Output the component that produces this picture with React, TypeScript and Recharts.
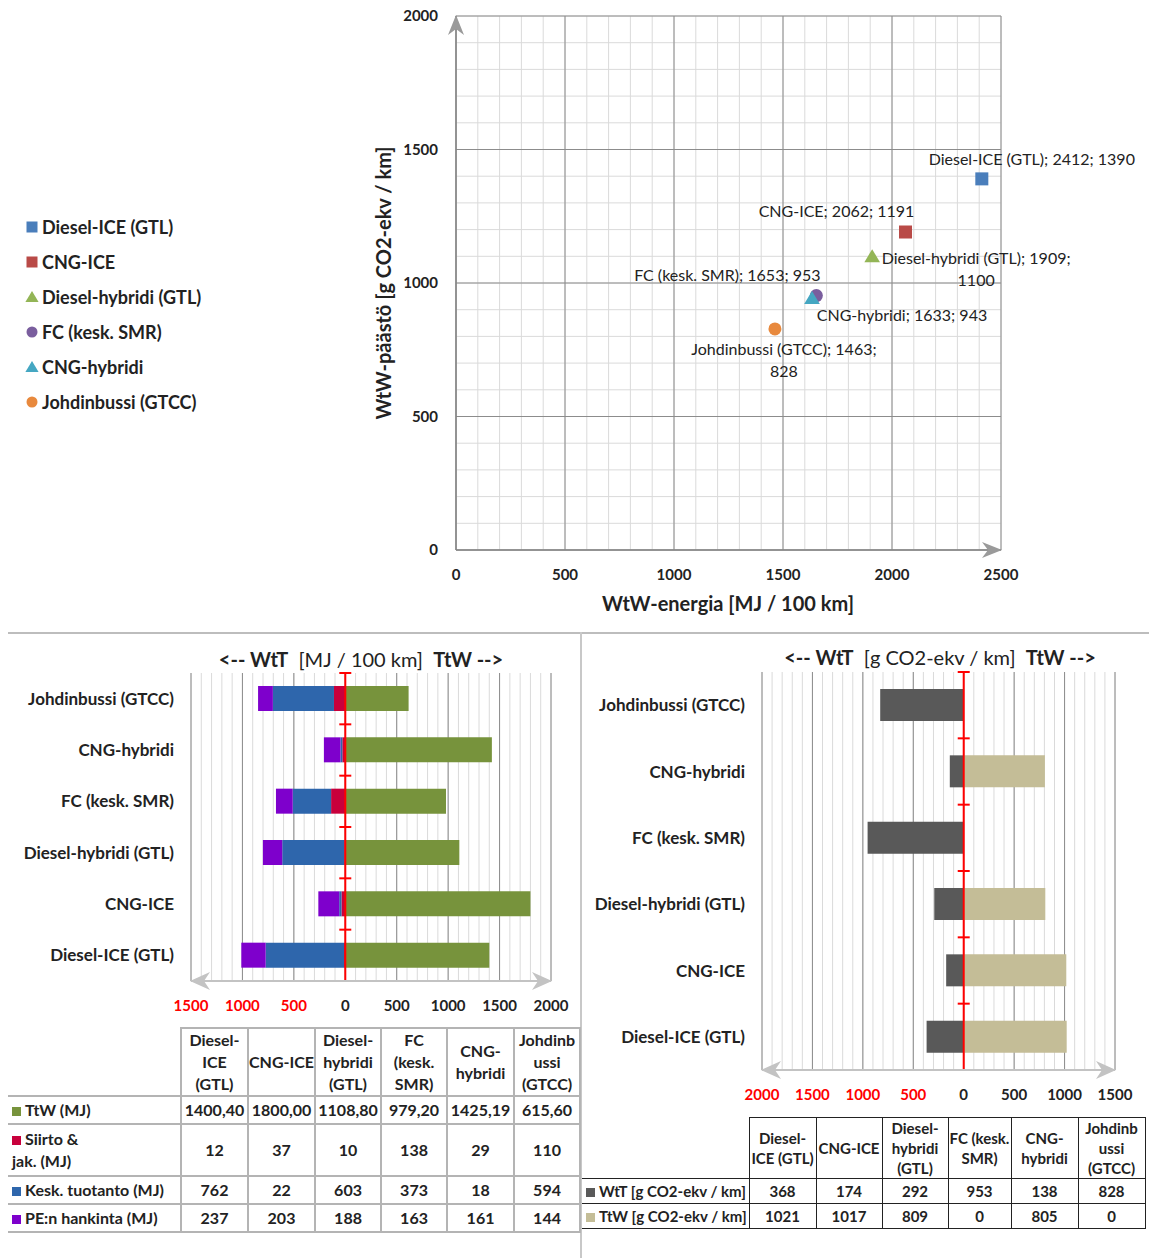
import React from "react";
import {
  ScatterChart,
  Scatter,
  XAxis,
  YAxis,
  CartesianGrid,
  BarChart,
  Bar,
  ReferenceLine,
} from "recharts";

const FONT = 'Lato, "Open Sans", sans-serif';

// bus types, in the order of the tables
const vehicles = ["Diesel-ICE (GTL)", "CNG-ICE", "Diesel-hybridi (GTL)", "FC (kesk. SMR)", "CNG-hybridi", "Johdinbussi (GTCC)"];
const vehicleColors = ["#4A7EBB", "#B94A47", "#93B556", "#7A5E9E", "#45A7C2", "#E8893D"];
const vehicleShapes = ["square", "square", "triangle", "circle", "triangle", "circle"];

// WtW scatter
const wtwEnergy = [2412, 2062, 1909, 1653, 1633, 1463];
const wtwEmission = [1390, 1191, 1100, 953, 943, 828];
const scatterXTicks = [0, 500, 1000, 1500, 2000, 2500];
const scatterYTicks = [0, 500, 1000, 1500, 2000];

// energy, MJ / 100 km
const ttwMJ = [1400.4, 1800.0, 1108.8, 979.2, 1425.19, 615.6];
const siirtoMJ = [12, 37, 10, 138, 29, 110];
const keskMJ = [762, 22, 603, 373, 18, 594];
const peMJ = [237, 203, 188, 163, 161, 144];
const energyTicks = [-1500, -1000, -500, 0, 500, 1000, 1500, 2000];

// emissions, g CO2-ekv / km
const wttCO2 = [368, 174, 292, 953, 138, 828];
const ttwCO2 = [1021, 1017, 809, 0, 805, 0];
const co2Ticks = [-2000, -1500, -1000, -500, 0, 500, 1000, 1500];

const energyHeaders = ["Diesel-\nICE\n(GTL)", "CNG-ICE", "Diesel-\nhybridi\n(GTL)", "FC\n(kesk.\nSMR)", "CNG-\nhybridi", "Johdinb\nussi\n(GTCC)"];
const co2Headers = ["Diesel-\nICE (GTL)", "CNG-ICE", "Diesel-\nhybridi\n(GTL)", "FC (kesk.\nSMR)", "CNG-\nhybridi", "Johdinb\nussi\n(GTCC)"];

const energyColors = { ttw: "#77933C", siirto: "#C8003C", kesk: "#2E66AC", pe: "#7E00CC" };
const co2Colors = { wtt: "#595959", ttw: "#C4BD97" };

// where each point's label sits relative to its marker
const labelPos = [
  { dx: 50, dy: -20, wrap: false },
  { dx: -69, dy: -22, wrap: false },
  { dx: 104, dy: 1, wrap: true },
  { dx: -89, dy: -21, wrap: false },
  { dx: 90, dy: 16, wrap: false },
  { dx: 9, dy: 20, wrap: true },
];

const scatterSeries = vehicles.map((name, i) => ({ name, data: [{ x: wtwEnergy[i], y: wtwEmission[i] }] }));
const energyData = vehicles.map((name, i) => ({ name, ttw: ttwMJ[i], siirto: -siirtoMJ[i], kesk: -keskMJ[i], pe: -peMJ[i] }));
const co2Data = vehicles.map((name, i) => ({ name, wtt: -wttCO2[i], ttw: ttwCO2[i] }));

const steps = (from: number, to: number, step: number) => {
  const out: number[] = [];
  for (let v = from; v <= to; v += step) out.push(v);
  return out;
};

function Marker({ shape, color, cx, cy, s }: any) {
  if (shape === "square") return <rect x={cx - s / 2} y={cy - s / 2} width={s} height={s} fill={color} />;
  if (shape === "circle") return <circle cx={cx} cy={cy} r={s / 2} fill={color} />;
  return <polygon points={`${cx},${cy - s * 0.55} ${cx + s * 0.6},${cy + s * 0.45} ${cx - s * 0.6},${cy + s * 0.45}`} fill={color} />;
}

const SignedTick = (props: any) => {
  const { x, y, payload } = props;
  const v = payload.value;
  return (
    <text x={x} y={y} dy="0.71em" textAnchor="middle" fill={v < 0 ? "#FF0000" : "#222"} fontSize={15} fontWeight={700} fontFamily={FONT}>
      {Math.abs(v)}
    </text>
  );
};

// red zero axis with tick marks between the categories
const RedAxis = (p: any) => {
  const { x1, y1, x2, y2 } = p;
  const n = vehicles.length;
  const marks = Array.from({ length: n + 1 }, (_, k) => y1 + ((y2 - y1) * k) / n);
  return (
    <g>
      <line x1={x1} y1={y1} x2={x2} y2={y2} stroke="#FF0000" strokeWidth={2} />
      {marks.map((t, k) => (
        <line key={k} x1={x1 - 6} x2={x1 + 6} y1={t} y2={t} stroke="#FF0000" strokeWidth={2} />
      ))}
    </g>
  );
};

const minorX = (min: number, max: number) => ({ offset }: any) =>
  steps(min, max, 100).map((v) => offset.left + ((v - min) / (max - min)) * offset.width);

function DataTable({ left, top, labelWidth, colWidths, headers, rows, headerHeight, fontSize, lineHeight, border }: any) {
  const cell: React.CSSProperties = { border, padding: 0, textAlign: "center", verticalAlign: "middle" };
  return (
    <table
      style={{ position: "absolute", left, top, borderCollapse: "collapse", tableLayout: "fixed", fontFamily: FONT, fontWeight: 700, fontSize, color: "#222", lineHeight: `${lineHeight}px` }}
    >
      <colgroup>
        <col style={{ width: labelWidth }} />
        {colWidths.map((w: number, i: number) => (
          <col key={i} style={{ width: w }} />
        ))}
      </colgroup>
      <tbody>
        <tr style={{ height: headerHeight }}>
          <td style={{ padding: 0, borderBottom: border }} />
          {headers.map((h: string, i: number) => (
            <td key={i} style={{ ...cell, whiteSpace: "pre", overflow: "visible" }}>
              {h}
            </td>
          ))}
        </tr>
        {rows.map((r: any, i: number) => (
          <tr key={i} style={{ height: r.height }}>
            <td style={{ padding: "0 0 0 4px", borderTop: border, borderBottom: border, whiteSpace: "pre-line", textAlign: "left" }}>
              <span style={{ display: "inline-block", width: 9, height: 9, background: r.color, marginRight: 4 }} />
              {r.label}
            </td>
            {r.values.map((v: string, k: number) => (
              <td key={k} style={cell}>
                {v}
              </td>
            ))}
          </tr>
        ))}
      </tbody>
    </table>
  );
}

export default function App() {
  const fmt2 = (v: number) => v.toFixed(2).replace(".", ",");
  return (
    <div style={{ position: "absolute", left: 0, top: 0, width: 1149, height: 1258, background: "#fff", fontFamily: FONT, color: "#222" }}>
      <svg width={0} height={0} style={{ position: "absolute" }}>
        <defs>
          <marker id="arrowDark" viewBox="0 0 20 16" markerWidth={20} markerHeight={16} refX={19} refY={8} orient="auto-start-reverse" markerUnits="userSpaceOnUse">
            <path d="M0,0 L20,8 L0,16 L6,8 Z" fill="#9A9A9A" />
          </marker>
          <marker id="arrowLight" viewBox="0 0 20 18" markerWidth={20} markerHeight={18} refX={19} refY={9} orient="auto-start-reverse" markerUnits="userSpaceOnUse">
            <path d="M0,0 L20,9 L0,18 L6,9 Z" fill="#C3C3C3" />
          </marker>
        </defs>
      </svg>

      {/* WtW scatter */}
      <div style={{ position: "absolute", left: 0, top: 0 }}>
        <ScatterChart width={1149} height={630} margin={{ top: 16, right: 148, bottom: 40, left: 396 }}>
          <CartesianGrid
            stroke="#DADADA"
            verticalCoordinatesGenerator={minorX(0, 2500)}
            horizontalCoordinatesGenerator={({ offset }: any) => steps(0, 2000, 100).map((v) => offset.top + offset.height - (v / 2000) * offset.height)}
          />
          <CartesianGrid stroke="#8C8C8C" />
          <XAxis
            type="number"
            dataKey="x"
            domain={[0, 2500]}
            ticks={scatterXTicks}
            height={40}
            tickLine={false}
            tickMargin={13}
            axisLine={{ stroke: "#868686", strokeWidth: 1.5, markerEnd: "url(#arrowDark)" }}
            tick={{ fill: "#222", fontSize: 15, fontWeight: 700, fontFamily: FONT }}
          />
          <YAxis
            type="number"
            dataKey="y"
            domain={[0, 2000]}
            ticks={scatterYTicks}
            width={60}
            tickLine={false}
            tickMargin={12}
            axisLine={{ stroke: "#868686", strokeWidth: 1.5, markerStart: "url(#arrowDark)" }}
            tick={{ fill: "#222", fontSize: 15, fontWeight: 700, fontFamily: FONT }}
          />
          {scatterSeries.map((s, i) => (
            <Scatter
              key={s.name}
              name={s.name}
              data={s.data}
              fill={vehicleColors[i]}
              isAnimationActive={false}
              shape={(p: any) => {
                const pos = labelPos[i];
                const px = p.payload?.x ?? wtwEnergy[i];
                const py = p.payload?.y ?? wtwEmission[i];
                const lines = pos.wrap ? [`${s.name}; ${px};`, `${py}`] : [`${s.name}; ${px}; ${py}`];
                return (
                  <g>
                    <Marker shape={vehicleShapes[i]} color={vehicleColors[i]} cx={p.cx} cy={p.cy} s={13} />
                    {lines.map((t, k) => (
                      <text key={k} x={p.cx + pos.dx} y={p.cy + pos.dy + k * 22} textAnchor="middle" dominantBaseline="central" fontSize={16} fontFamily={FONT} fill="#222">
                        {t}
                      </text>
                    ))}
                  </g>
                );
              }}
            />
          ))}
        </ScatterChart>
      </div>
      <div style={{ position: "absolute", left: 728, top: 603, transform: "translate(-50%,-50%)", fontSize: 20, fontWeight: 700, whiteSpace: "nowrap" }}>
        WtW-energia [MJ / 100 km]
      </div>
      <div style={{ position: "absolute", left: 383, top: 283, transform: "translate(-50%,-50%) rotate(-90deg)", fontSize: 20, fontWeight: 700, whiteSpace: "nowrap" }}>
        WtW-päästö [g CO2-ekv / km]
      </div>
      <div style={{ position: "absolute", left: 25, top: 209 }}>
        {vehicles.map((name, i) => (
          <div key={name} style={{ height: 35, display: "flex", alignItems: "center", fontSize: 18, fontWeight: 700 }}>
            <svg width={14} height={14} style={{ marginRight: 3 }}>
              <Marker shape={vehicleShapes[i]} color={vehicleColors[i]} cx={7} cy={7} s={11} />
            </svg>
            {name}
          </div>
        ))}
      </div>

      {/* panel frame */}
      <div style={{ position: "absolute", left: 8, top: 632, width: 1141, height: 2, background: "#BDBDBD" }} />
      <div style={{ position: "absolute", left: 580, top: 632, width: 2, height: 626, background: "#C8C8C8" }} />

      {/* energy breakdown */}
      <div style={{ position: "absolute", left: 361, top: 659, transform: "translate(-50%,-50%)", fontSize: 20, whiteSpace: "pre" }}>
        <b>{"<-- WtT"}</b>{"  [MJ / 100 km]  "}<b>{"TtW -->"}</b>
      </div>
      <div style={{ position: "absolute", left: 0, top: 640 }}>
        <BarChart layout="vertical" width={580} height={390} data={energyData} margin={{ top: 33, right: 29, bottom: 9, left: 0 }} stackOffset="sign" barSize={25}>
          <CartesianGrid horizontal={false} stroke="#DADADA" verticalCoordinatesGenerator={minorX(-1500, 2000)} />
          <CartesianGrid horizontal={false} stroke="#8C8C8C" />
          <XAxis
            type="number"
            domain={[-1500, 2000]}
            ticks={energyTicks}
            height={40}
            tickLine={false}
            tickMargin={13}
            axisLine={{ stroke: "#C3C3C3", strokeWidth: 2, markerStart: "url(#arrowLight)", markerEnd: "url(#arrowLight)" }}
            tick={SignedTick}
          />
          <YAxis
            type="category"
            dataKey="name"
            reversed
            width={191}
            interval={0}
            tickLine={false}
            axisLine={false}
            tickMargin={11}
            tick={{ fill: "#222", fontSize: 17, fontWeight: 700, fontFamily: FONT }}
          />
          <Bar dataKey="ttw" stackId="a" fill={energyColors.ttw} isAnimationActive={false} />
          <Bar dataKey="siirto" stackId="a" fill={energyColors.siirto} isAnimationActive={false} />
          <Bar dataKey="kesk" stackId="a" fill={energyColors.kesk} isAnimationActive={false} />
          <Bar dataKey="pe" stackId="a" fill={energyColors.pe} isAnimationActive={false} />
          <ReferenceLine x={0} stroke="#FF0000" strokeWidth={2} shape={RedAxis} />
        </BarChart>
      </div>
      <DataTable
        left={8}
        top={1027}
        labelWidth={173}
        colWidths={[67, 67, 66, 66, 67, 66]}
        headers={energyHeaders}
        headerHeight={67}
        fontSize={16}
        lineHeight={22}
        border="2px solid #B4B4B4"
        rows={[
          { label: "TtW (MJ)", color: energyColors.ttw, values: ttwMJ.map(fmt2), height: 28 },
          { label: "Siirto &\njak. (MJ)", color: energyColors.siirto, values: siirtoMJ.map(String), height: 52 },
          { label: "Kesk. tuotanto (MJ)", color: energyColors.kesk, values: keskMJ.map(String), height: 28 },
          { label: "PE:n hankinta (MJ)", color: energyColors.pe, values: peMJ.map(String), height: 28 },
        ]}
      />

      {/* emission breakdown */}
      <div style={{ position: "absolute", left: 940, top: 657, transform: "translate(-50%,-50%)", fontSize: 20, whiteSpace: "pre" }}>
        <b>{"<-- WtT"}</b>{"  [g CO2-ekv / km]  "}<b>{"TtW -->"}</b>
      </div>
      <div style={{ position: "absolute", left: 581, top: 640 }}>
        <BarChart layout="vertical" width={568} height={470} data={co2Data} margin={{ top: 32, right: 34, bottom: 0, left: 0 }} stackOffset="sign" barSize={32}>
          <CartesianGrid horizontal={false} stroke="#DADADA" verticalCoordinatesGenerator={minorX(-2000, 1500)} />
          <CartesianGrid horizontal={false} stroke="#8C8C8C" />
          <XAxis
            type="number"
            domain={[-2000, 1500]}
            ticks={co2Ticks}
            height={40}
            tickLine={false}
            tickMargin={13}
            axisLine={{ stroke: "#C3C3C3", strokeWidth: 2, markerStart: "url(#arrowLight)", markerEnd: "url(#arrowLight)" }}
            tick={SignedTick}
          />
          <YAxis
            type="category"
            dataKey="name"
            reversed
            width={181}
            interval={0}
            tickLine={false}
            axisLine={false}
            tickMargin={11}
            tick={{ fill: "#222", fontSize: 17, fontWeight: 700, fontFamily: FONT }}
          />
          <Bar dataKey="wtt" stackId="a" fill={co2Colors.wtt} isAnimationActive={false} />
          <Bar dataKey="ttw" stackId="a" fill={co2Colors.ttw} isAnimationActive={false} />
          <ReferenceLine x={0} stroke="#FF0000" strokeWidth={2} shape={RedAxis} />
        </BarChart>
      </div>
      <DataTable
        left={582}
        top={1117}
        labelWidth={167}
        colWidths={[67, 66, 66, 63, 67, 67]}
        headers={co2Headers}
        headerHeight={60}
        fontSize={15}
        lineHeight={20}
        border="1.5px solid #222"
        rows={[
          { label: "WtT [g CO2-ekv / km]", color: co2Colors.wtt, values: wttCO2.map(String), height: 25 },
          { label: "TtW [g CO2-ekv / km]", color: co2Colors.ttw, values: ttwCO2.map(String), height: 25 },
        ]}
      />
    </div>
  );
}
